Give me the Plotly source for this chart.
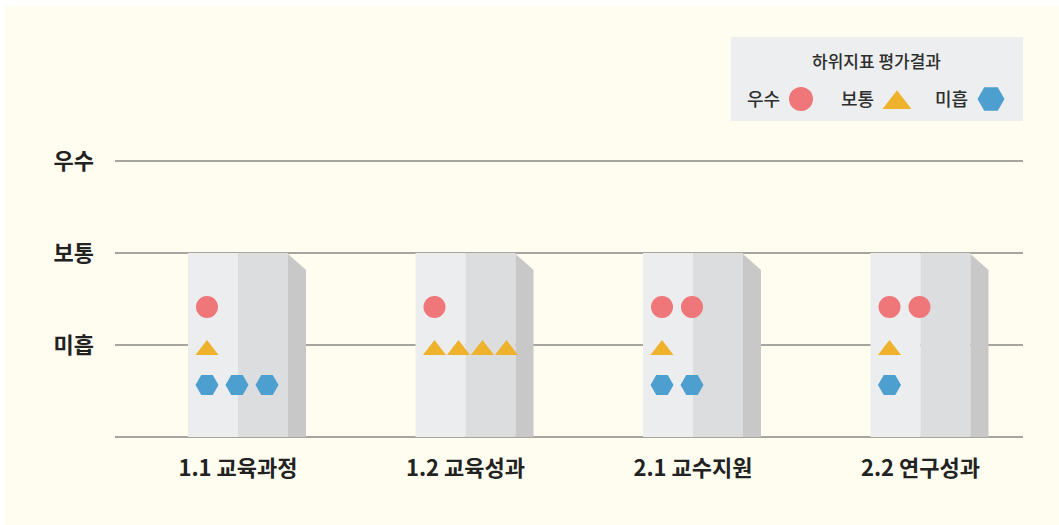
import plotly.graph_objects as go

# ---------------- data ----------------
categories = ["1.1 교육과정", "1.2 교육성과", "2.1 교수지원", "2.2 연구성과"]
level_labels = ["미흡", "보통", "우수"]          # y = 1, 2, 3
count_excellent = [1, 1, 2, 2]   # 우수 (circles)
count_average = [1, 4, 1, 1]     # 보통 (triangles)
count_poor = [3, 0, 2, 1]        # 미흡 (hexagons)
legend_title = "하위지표 평가결과"
legend_names = ["우수", "보통", "미흡"]

# ---------------- style ----------------
PAGE_W, PAGE_H = 1059, 525
OFFX, OFFY = 5, 6                 # white page border around the cream card
W, H = PAGE_W - OFFX + 10, PAGE_H - OFFY + 10
BG = "#fffdf0"
FONT = "Noto Sans CJK KR"
TXT = "#222222"
GRID = "#a6a6a1"
C_RED = "#ef7679"
C_YEL = "#eeb22d"
C_BLU = "#4d9fcf"
PX_X = 227.5      # pixels per category unit
PX_Y = 92.0       # pixels per level unit


def dx(px):
    return px / PX_X


def dy(px):
    return px / PX_Y


def fx(page_x):
    return page_x - OFFX


def fy(page_y):
    return page_y - OFFY


fig = go.Figure()

# pillars
shapes = []
for i, _ in enumerate(categories):
    c = i
    hw = dx(50)
    shapes.append(dict(type="rect", xref="x", yref="y", x0=c - hw, x1=c, y0=0, y1=2,
                       fillcolor="#ebedef", line=dict(width=0), layer="between"))
    shapes.append(dict(type="rect", xref="x", yref="y", x0=c, x1=c + hw, y0=0, y1=2,
                       fillcolor="#dcdddf", line=dict(width=0), layer="between"))
    xs0, xs1 = c + hw, c + hw + dx(18)
    shapes.append(dict(type="path", xref="x", yref="y",
                       path=f"M{xs0},0 L{xs0},{2 - dy(1)} L{xs1},{2 - dy(17)} L{xs1},0 Z",
                       fillcolor="#c8c8c8", line=dict(width=0), layer="between"))

# markers inside pillars
rows = [
    (count_excellent, 2 - dy(54), "circle", C_RED, 22, legend_names[0]),
    (count_average, 2 - dy(97), "triangle-up", C_YEL, 20, legend_names[1]),
    (count_poor, 2 - dy(132), "hexagon2", C_BLU, 23, legend_names[2]),
]
for counts, yrow, sym, col, size, name in rows:
    xs, ys = [], []
    for i, n in enumerate(counts):
        step = dx(30) if n <= 3 else dx(24)
        start = i - dx(31)
        for k in range(n):
            xs.append(start + k * step)
            ys.append(yrow)
    fig.add_trace(go.Scatter(x=xs, y=ys, mode="markers", name=name, showlegend=False,
                             marker=dict(symbol=sym, color=col, size=size,
                                         line=dict(width=0)),
                             xaxis="x", yaxis="y", hoverinfo="skip"))

# legend (drawn on a full-figure pixel axis pair)
shapes.append(dict(type="rect", xref="x2", yref="y2", x0=fx(731), x1=fx(1023),
                   y0=fy(37), y1=fy(121),
                   fillcolor="#eceef0", line=dict(width=0), layer="below"))
annotations = [
    dict(xref="x2", yref="y2", x=fx(876), y=fy(60), text=legend_title, showarrow=False,
         font=dict(family=FONT, size=17, color="#2e2e2e", weight=500)),
]
leg_items = [(763, 801, "circle", C_RED, 24),
             (857, 897, "triangle-up", C_YEL, 25),
             (951, 991, "hexagon2", C_BLU, 27)]
for (tx, mx, sym, col, sz), name in zip(leg_items, legend_names):
    annotations.append(dict(xref="x2", yref="y2", x=fx(tx), y=fy(98), text=name,
                            showarrow=False,
                            font=dict(family=FONT, size=18, color="#2e2e2e", weight=500)))
    my = 99 + (sz * 0.15 if sym == "triangle-up" else 0)
    fig.add_trace(go.Scatter(x=[fx(mx)], y=[fy(my)], mode="markers", showlegend=False,
                             marker=dict(symbol=sym, color=col, size=sz, line=dict(width=0)),
                             xaxis="x2", yaxis="y2", hoverinfo="skip"))

x0px, x1px = fx(115), fx(1023)
y_top_px, y_bot_px = fy(130), fy(445)
base_px = fy(437)
center0_px = fx(238)

fig.update_layout(
    width=W, height=H,
    margin=dict(l=0, r=0, t=0, b=0),
    paper_bgcolor=BG, plot_bgcolor="rgba(0,0,0,0)",
    showlegend=False,
    shapes=shapes, annotations=annotations,
    xaxis=dict(domain=[x0px / W, x1px / W],
               range=[(x0px - center0_px) / PX_X, (x1px - center0_px) / PX_X],
               tickvals=list(range(len(categories))), ticktext=categories,
               showgrid=False, zeroline=False, showline=False, ticks="",
               ticklabelstandoff=8,
               tickfont=dict(family=FONT, size=22, color=TXT, weight="bold"),
               anchor="y", fixedrange=True),
    yaxis=dict(domain=[1 - y_bot_px / H, 1 - y_top_px / H],
               range=[(base_px - y_bot_px) / PX_Y, (base_px - y_top_px) / PX_Y],
               tickvals=[0, 1, 2, 3], ticktext=[""] + level_labels,
               showgrid=True, gridcolor=GRID, gridwidth=2,
               zeroline=False, showline=False, ticks="",
               ticklabelstandoff=20,
               tickfont=dict(family=FONT, size=22, color=TXT, weight="bold"),
               anchor="x", fixedrange=True),
    xaxis2=dict(domain=[0, 1], range=[0, W], visible=False, anchor="y2", fixedrange=True),
    yaxis2=dict(domain=[0, 1], range=[H, 0], visible=False, anchor="x2", fixedrange=True),
)

fig.write_html(
    "out.html",
    post_script=(f"document.body.style.margin='{OFFY}px 0 0 {OFFX}px';"
                 "document.documentElement.style.background='#ffffff';"
                 f"document.body.style.background='{BG}';"
                 "document.body.style.minHeight='100vh';"
                 "document.body.style.overflow='hidden';"),
)
